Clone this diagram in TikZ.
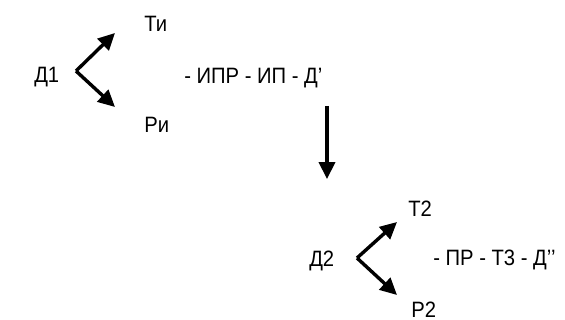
\documentclass[tikz,border=0pt]{standalone}
\usepackage{fontspec}
\setmainfont{Liberation Sans}[FakeStretch=0.91]
\usetikzlibrary{arrows.meta}

\begin{document}
\begin{tikzpicture}[x=0.025cm, y=-0.025cm,
        lbl/.style={anchor=base west, inner sep=0pt, font=\fontsize{15.8}{18}\selectfont},
        arr/.style={-{Triangle[length=0.42cm, width=0.4cm]}, line width=0.085cm}]
        \useasboundingbox (0,0) rectangle (565,320);
        % first stage
        \node (D1) [lbl] at (34,83) {Д1};
        \node (Ti) [lbl] at (144,32) {Ти};
        \node (Ri) [lbl] at (144,132.5) {Ри};
        \node (L1) [lbl] at (184,84) {- ИПР - ИП - Д’};
        \coordinate (v1) at (76,71);
        \coordinate (t1) at (115,33);
        \coordinate (r1) at (115,107);
        \path[arr] (v1) edge (t1);
        \path[arr] (v1) edge (r1);
        % transition
        \coordinate (a1) at (327,106);
        \coordinate (a2) at (327,179);
        \path[arr] (a1) edge (a2);
        % second stage
        \node (D2) [lbl] at (309,266.5) {Д2};
        \node (T2) [lbl] at (408,216.5) {Т2};
        \node (P2) [lbl] at (411,317) {Р2};
        \node (L2) [lbl] at (433,266) {- ПР - Т3 - Д’’};
        \coordinate (v2) at (357,258);
        \coordinate (t2) at (397,222);
        \coordinate (r2) at (397,295);
        \path[arr] (v2) edge (t2);
        \path[arr] (v2) edge (r2);
    \end{tikzpicture}
\end{document}
